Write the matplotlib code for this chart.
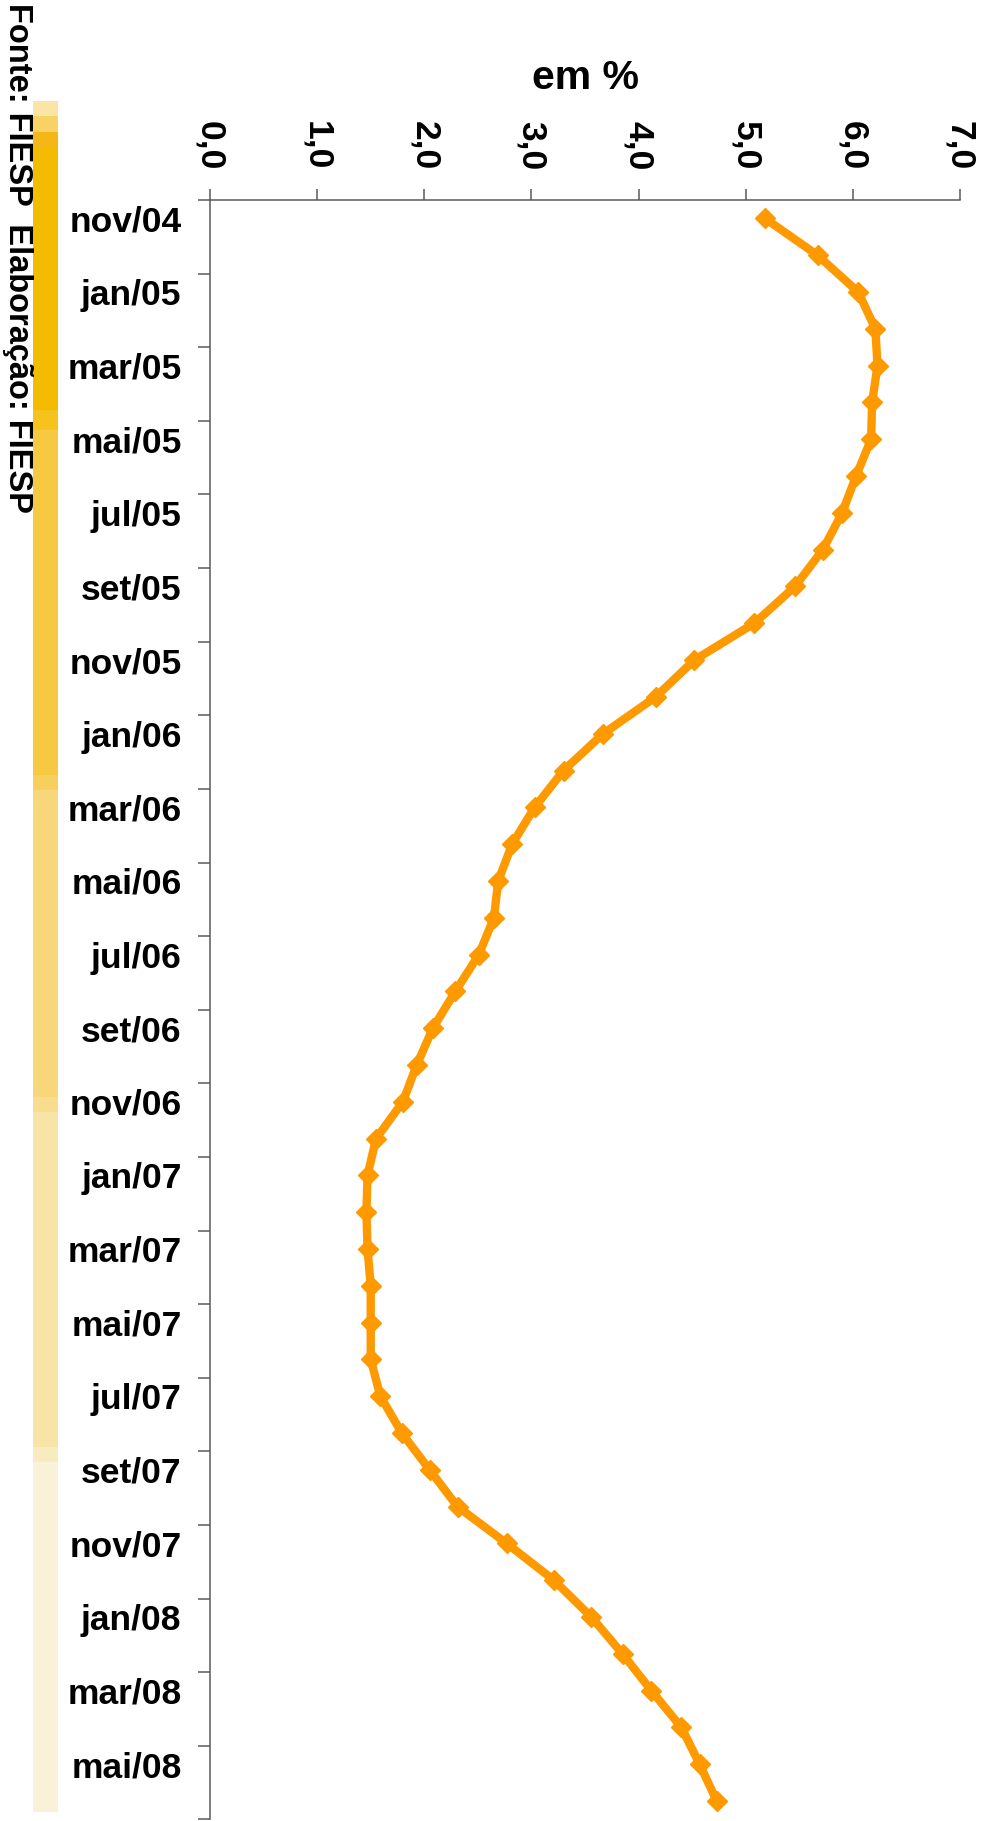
import numpy as np
import matplotlib
matplotlib.use("Agg")
import matplotlib.pyplot as plt
from matplotlib.patches import Rectangle

plt.rcParams['font.family'] = ['Liberation Sans', 'DejaVu Sans']
plt.rcParams['font.weight'] = 'bold'

months = ["nov/04", "dez/04", "jan/05", "fev/05", "mar/05", "abr/05", "mai/05", "jun/05",
          "jul/05", "ago/05", "set/05", "out/05", "nov/05", "dez/05", "jan/06", "fev/06",
          "mar/06", "abr/06", "mai/06", "jun/06", "jul/06", "ago/06", "set/06", "out/06",
          "nov/06", "dez/06", "jan/07", "fev/07", "mar/07", "abr/07", "mai/07", "jun/07",
          "jul/07", "ago/07", "set/07", "out/07", "nov/07", "dez/07", "jan/08", "fev/08",
          "mar/08", "abr/08", "mai/08", "jun/08"]

values = [5.18, 5.67, 6.05, 6.21, 6.23, 6.18, 6.17, 6.03, 5.90, 5.72, 5.46, 5.08,
          4.52, 4.16, 3.67, 3.30, 3.03, 2.82, 2.69, 2.65, 2.51, 2.29, 2.08, 1.93,
          1.80, 1.55, 1.47, 1.46, 1.47, 1.50, 1.50, 1.50, 1.59, 1.79, 2.05, 2.31,
          2.77, 3.21, 3.56, 3.85, 4.12, 4.40, 4.57, 4.73]

value_ticks = [0, 1, 2, 3, 4, 5, 6, 7]
value_tick_labels = ["0,0", "1,0", "2,0", "3,0", "4,0", "5,0", "6,0", "7,0"]

unit_label = "em %"
source_text = "Fonte: FIESP  Elaboração: FIESP"

W, H = 986, 1821
fig = plt.figure(figsize=(W / 100, H / 100), dpi=100)
fig.patch.set_facecolor("white")

ax = fig.add_axes([210 / W, 1 - 1819.5 / H, (960 - 210) / W, (1819.5 - 200) / H])

pos = np.arange(len(months))
ax.plot(values, pos, color="#ff9900", lw=6, marker="D", ms=10,
        markerfacecolor="#ff9900", markeredgecolor="#ff9900", clip_on=False, zorder=3)

ax.set_xlim(0, 7)
ax.set_ylim(len(months) - 0.5, -0.5)

# value axis on top
ax.xaxis.tick_top()
ax.set_xticks(value_ticks)
ax.set_xticklabels(value_tick_labels)
ax.tick_params(axis="x", which="major", direction="out", length=8, width=1.1,
               color="#5a5a5a", labelsize=25.5, pad=13.5, labelrotation=-90)

# category axis: ticks at boundaries, labels at every other category
ax.set_yticks(np.arange(-0.5, len(months), 2))
ax.set_yticklabels([])
ax.set_yticks(pos[::2], minor=True)
ax.set_yticklabels(months[::2], minor=True)
ax.tick_params(axis="y", which="major", direction="out", length=8.6, width=1.1,
               color="#5a5a5a")
ax.tick_params(axis="y", which="minor", length=0, labelsize=25.5, pad=20.5)

for lab in ax.get_xticklabels() + ax.get_yticklabels(minor=True):
    lab.set_fontweight("bold")

for s in ["right", "bottom"]:
    ax.spines[s].set_visible(False)
for s in ["left", "top"]:
    ax.spines[s].set_color("#5a5a5a")
    ax.spines[s].set_linewidth(1.1)

fig.text(585 / W, 1 - 78 / H, unit_label, ha="center", va="center",
         fontsize=29.5, fontweight="bold")

# decorative gradient strip on the left
segments = [(101, 116, "#fbe4a4"), (116, 132, "#f8d264"), (132, 147, "#f4b718"),
            (147, 410, "#f5bb00"), (410, 430, "#f6c21c"), (430, 775, "#f7c842"),
            (775, 790, "#f7cf5e"), (790, 1097, "#f8d77a"), (1097, 1112, "#f8dd8f"),
            (1112, 1447, "#f9e4a8"), (1447, 1462, "#f9ebc0"), (1462, 1812, "#faf2d8")]
for y0, y1, c in segments:
    fig.add_artist(Rectangle((33 / W, 1 - y1 / H), 25 / W, (y1 - y0) / H,
                             transform=fig.transFigure, facecolor=c, edgecolor="none",
                             zorder=0))

fig.text(17 / W, 1 - 3 / H, source_text, rotation=-90, ha="center", va="top",
         fontsize=23.5, fontweight="bold")

fig.savefig("out.png", dpi=100, facecolor="white")
